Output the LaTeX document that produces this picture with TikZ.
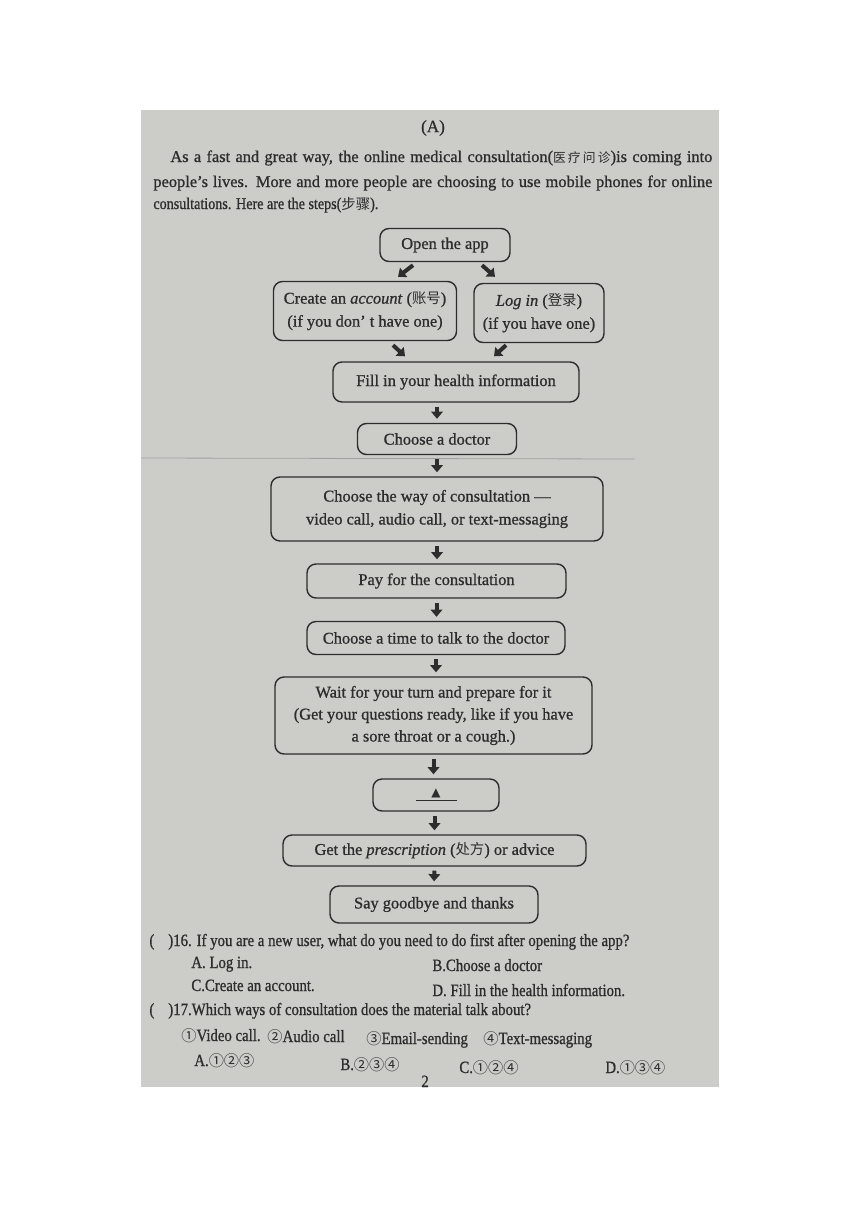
\documentclass[tikz,border=0pt]{standalone}
\usepackage{fontspec}
\setmainfont[FakeBold=0.9]{Liberation Serif}
\newfontfamily\cjk{Noto Sans CJK SC}
\newfontfamily\symfont{DejaVu Sans}
\newfontfamily\narrowfont[FakeStretch=0.86,FakeBold=0.9]{Liberation Serif}
\usetikzlibrary{arrows.meta}
\definecolor{paper}{RGB}{204,204,201}
\definecolor{ink}{RGB}{45,45,45}
\newcommand{\zh}[1]{{\cjk\fontsize{7.2}{9}\selectfont #1}}
\newcommand{\cnum}[1]{{\cjk\fontsize{7.6}{10}\selectfont #1}}

\tikzset{
  stepbox/.style={draw=ink, line width=0.7pt, rounded corners=4.5pt, inner sep=0pt,
    align=center, text=ink, font=\fontsize{8.2}{11.5}\selectfont},
  steparr/.style={draw=ink, line width=2pt, -{Triangle[length=3.6pt,width=5.8pt]},
    shorten <=2pt, shorten >=2pt},
  bodytext/.style={anchor=base west, inner sep=0pt, text=ink, font=\fontsize{8.2}{10}\selectfont},
  qtext/.style={anchor=base west, inner sep=0pt, text=ink, font={\narrowfont\fontsize{8.6}{10}\selectfont}}
}

\begin{document}
\begin{tikzpicture}[x=0.5pt, y=-0.5pt]
			\useasboundingbox (0,0) rectangle (860,1216);
			\fill[white] (0,0) rectangle (860,1216);
			\fill[paper] (141,110) rectangle (719,1087);
			\draw[ink!45, line width=0.4pt] (141,458) -- (635,459);

			% --- heading and passage ---
			\node[text=ink, font=\fontsize{8.6}{10}\selectfont] (head) at (433,128) {(A)};
			\node[bodytext] (line1) at (170,162) {\makebox[271pt][s]{As a fast and great way, the online medical consultation(\zh{\fontsize{6.4}{8}\selectfont 医\,疗\,问\,诊})is coming into}};
			\node[bodytext] (line2) at (153,187) {\makebox[279.5pt][s]{people's lives. More and more people are choosing to use mobile phones for online}};
			\node[bodytext, font={\narrowfont\fontsize{8.2}{10}\selectfont}] (line3) at (153,209) {consultations. Here are the steps(\zh{步骤}).};

			% --- flow chart ---
			\node[stepbox, minimum width=65pt, minimum height=16.5pt] (open) at (445,245) {Open the app};
			\node[stepbox, minimum width=91.5pt, minimum height=29.5pt] (create) at (365,311)
				{Create an \textit{account} (\zh{账号})\\(if you don’ t have one)};
			\node[stepbox, minimum width=65pt, minimum height=29.5pt] (login) at (539,313)
				{\textit{Log in} (\zh{登录})\\(if you have one)};
			\node[stepbox, minimum width=123pt, minimum height=20pt] (fill) at (456,382) {Fill in your health information};
			\node[stepbox, minimum width=79.5pt, minimum height=15.5pt] (doctor) at (437,439) {Choose a doctor};
			\node[stepbox, minimum width=166pt, minimum height=32pt] (way) at (437,509)
				{Choose the way of consultation —\\video call, audio call, or text-messaging};
			\node[stepbox, minimum width=129.5pt, minimum height=17pt] (pay) at (436.5,581) {Pay for the consultation};
			\node[stepbox, minimum width=129pt, minimum height=16.5pt] (time) at (436,638) {Choose a time to talk to the doctor};
			\node[stepbox, minimum width=158.5pt, minimum height=38.5pt, font=\fontsize{8.2}{11}\selectfont] (wait) at (433.5,715.5)
				{Wait for your turn and prepare for it\\(Get your questions ready, like if you have\\a sore throat or a cough.)};
			\node[stepbox, minimum width=63pt, minimum height=16pt] (blank) at (436,795)
				{\underline{\makebox[20.5pt]{\symfont\fontsize{6}{6}\selectfont ▲}}};
			\node[stepbox, minimum width=151.5pt, minimum height=15.5pt] (prescr) at (434.5,850.5)
				{Get the \textit{prescription} (\zh{处方}) or advice};
			\node[stepbox, minimum width=104pt, minimum height=18.5pt] (bye) at (434,904.5) {Say goodbye and thanks};

			% --- arrows ---
			\draw[steparr, shorten <=0pt, shorten >=0pt] ([shift={(-32,3)}]open.south) -- ([shift={(33,-4)}]create.north);
			\draw[steparr, shorten <=0pt, shorten >=0pt] ([shift={(37,3)}]open.south) -- ([shift={(-44,-6)}]login.north);
			\draw[steparr, shorten <=0pt, shorten >=0pt] ([shift={(28,4)}]create.south) -- ([shift={(-51,-5)}]fill.north);
			\draw[steparr, shorten <=0pt, shorten >=0pt] ([shift={(-33,2)}]login.south) -- ([shift={(38,-5)}]fill.north);
			\draw[steparr] (fill.south -| doctor.north) -- (doctor.north);
			\draw[steparr] (doctor.south) -- (way.north);
			\draw[steparr] (way.south) -- (way.south |- pay.north);
			\draw[steparr] (pay.south) -- (pay.south |- time.north);
			\draw[steparr] (time.south) -- (time.south |- wait.north);
			\draw[steparr] (wait.south) -- (wait.south |- blank.north);
			\draw[steparr] (prescr.north |- blank.south) -- (prescr.north);
			\draw[steparr] (prescr.south) -- (bye.north);

			% --- questions ---
			\node[qtext] (q16) at (149,946) {(\hspace{7pt})16. If you are a new user, what do you need to do first after opening the app?};
			\node[qtext] (q16a) at (191,968) {A. Log in.};
			\node[qtext] (q16b) at (432,971) {B.Choose a doctor};
			\node[qtext] (q16c) at (191,991) {C.Create an account.};
			\node[qtext] (q16d) at (432,996) {D. Fill in the health information.};
			\node[qtext] (q17) at (149,1015) {(\hspace{7pt})17.Which ways of consultation does the material talk about?};
			\node[qtext] (w1) at (181,1041) {\cnum{①}Video call.};
			\node[qtext] (w2) at (267,1042) {\cnum{②}Audio call};
			\node[qtext] (w3) at (366,1044) {\cnum{③}Email-sending};
			\node[qtext] (w4) at (483,1044) {\cnum{④}Text-messaging};
			\node[qtext] (q17a) at (194,1066) {A.\cnum{①②③}};
			\node[qtext] (q17b) at (340,1070) {B.\cnum{②③④}};
			\node[qtext] (q17c) at (459,1073) {C.\cnum{①②④}};
			\node[qtext] (q17d) at (605,1073) {D.\cnum{①③④}};
			\node[qtext] (page) at (421,1087) {2};

		\end{tikzpicture}
\end{document}
